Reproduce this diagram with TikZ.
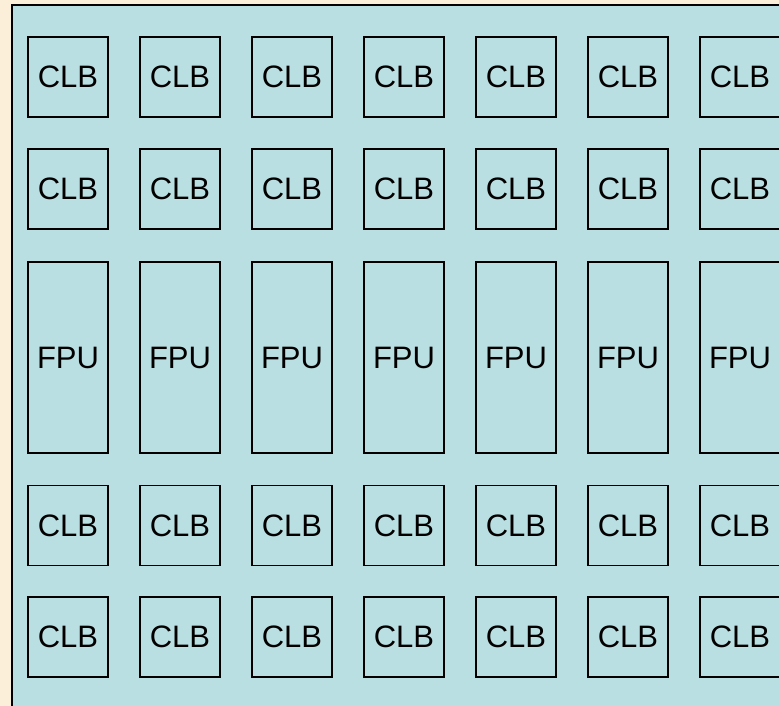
\documentclass[tikz,border=0pt]{standalone}
\usepackage{fontspec}
\setmainfont{Liberation Sans}
\definecolor{parch}{HTML}{FCEFDA}
\definecolor{chip}{HTML}{BADFE2}
\tikzset{
  cell/.style={draw=black, line width=1.4pt, minimum width=80pt, inner sep=0pt,
    font=\fontsize{31}{31}\selectfont, text=black},
  clb/.style={cell, minimum height=80pt},
  fpu/.style={cell, minimum height=191pt},
}
\begin{document}
\begin{tikzpicture}[x=1pt,y=-1pt]
\useasboundingbox (0,0) rectangle (779,706);
\clip (0,0) rectangle (779,706);
\fill[parch] (0,0) rectangle (779,706);
\filldraw[fill=chip, draw=black, line width=2pt] (12,5) rectangle (790,715);
\foreach \c in {1,...,7}{
  \pgfmathsetmacro{\xx}{68+112*(\c-1)}
  \node[clb] (r1c\c) at (\xx,77) {CLB};
  \node[clb] (r2c\c) at (\xx,189) {CLB};
  \node[fpu] (f\c) at (\xx,357.5) {FPU};
  \node[clb] (r4c\c) at (\xx,525.5) {CLB};
  \node[clb] (r5c\c) at (\xx,637) {CLB};
}
\end{tikzpicture}
\end{document}
